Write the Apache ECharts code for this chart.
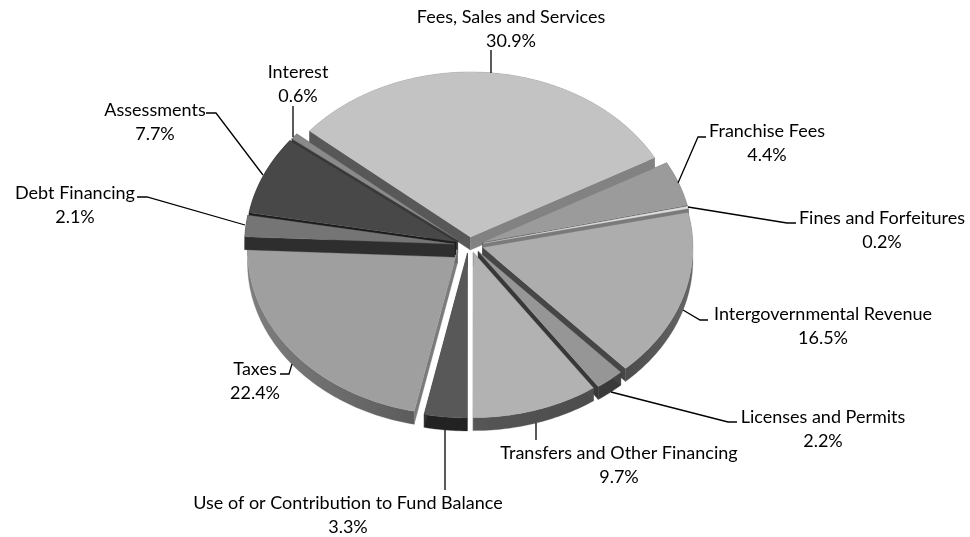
<!DOCTYPE html>
<html>
<head>
<meta charset="utf-8">
<script src="https://cdn.jsdelivr.net/npm/echarts@6/dist/echarts.min.js"></script>
<style>
  html, body { margin: 0; padding: 0; background: #fff; }
  #chart_id { width: 970px; height: 537px; }
</style>
</head>
<body>
<div id="chart_id"></div>
<script>
// values, clockwise from the first slice
const categories = [
  'Fees, Sales and Services', 'Franchise Fees', 'Fines and Forfeitures',
  'Intergovernmental Revenue', 'Licenses and Permits', 'Transfers and Other Financing',
  'Use of or Contribution to Fund Balance', 'Taxes', 'Debt Financing', 'Assessments', 'Interest',
];
const percents = [30.9, 4.4, 0.2, 16.5, 2.2, 9.7, 3.3, 22.4, 2.1, 7.7, 0.6];

// per slice grays: top, start wall, end wall, outer wall (left, right)
const topColors = ['#c3c3c3', '#9b9b9b', '#dcdcdc', '#adadad', '#969696', '#b2b2b2', '#585858', '#9f9f9f', '#757575', '#484848', '#8a8a8a'];
const startWall = ['#585858', '#666666', '#777777', '#5a5a5a', '#444444', '#505050', '#333333', '#7b7b7b', '#2e2e2e', '#1c1c1c', '#3a3a3a'];
const endWall = ['#828282', '#5c5c5c', '#7a7a7a', '#464646', '#383838', '#505050', '#333333', '#6a6a6a', '#2e2e2e', '#1c1c1c', '#3a3a3a'];
const arcLeft = ['#828282', '#666666', '#777777', '#4c4c4c', '#3a3a3a', '#565656', '#222222', '#7e7e7e', '#2e2e2e', '#1c1c1c', '#3a3a3a'];
const arcRight = ['#828282', '#666666', '#777777', '#666666', '#3a3a3a', '#4c4c4c', '#222222', '#5c5c5c', '#2e2e2e', '#1c1c1c', '#3a3a3a'];

// label anchors (centre x, first line y) and leader lines
const labelAnchors = [
  [511, 17], [767, 131], [882, 218], [823, 314], [823, 417],
  [619, 453], [348, 503], [255, 369], [75, 193], [155, 110], [298, 72],
];
const leaders = [
  [[491, 50], [491, 73]],
  [[706, 137], [698, 137], [678, 183]],
  [[688, 207], [787, 223], [796, 223]],
  [[708, 320], [700, 320], [683, 310]],
  [[611, 392], [728, 422], [737, 422]],
  [[536, 423], [536, 440]],
  [[445, 430], [445, 490]],
  [[280, 374], [289, 374], [292, 364]],
  [[137, 197], [147, 197], [245, 225]],
  [[206, 113], [216, 113], [263, 175]],
  [[293, 106], [293, 137]],
];

const cx = 469, cy = 245;
const rx = 210, ry = 165;
const depth = 13;
const explode = 14.5, explodeY = 0.55;
const startAngle = -50;

// painter's order, slice indexes
const drawOrder = [0, 10, 1, 2, 3, 4, 5, 6, 7, 9, 8];

const total = percents.reduce((a, b) => a + b, 0);
const slices = [];
let acc = startAngle;
percents.forEach((p) => {
  const sweep = p / total * 360;
  slices.push({ start: acc, end: acc + sweep, mid: acc + sweep / 2 });
  acc += sweep;
});
const rad = (d) => d * Math.PI / 180;

function sliceItem(params) {
  const i = drawOrder[params.dataIndex];
  const s = slices[i];
  const ax = cx + explode * Math.sin(rad(s.mid));
  const ay = cy - explode * explodeY * Math.cos(rad(s.mid));
  const pt = (deg) => [ax + rx * Math.sin(rad(deg)), ay - ry * Math.cos(rad(deg))];
  const down = (p) => [p[0], p[1] + depth];

  const arc = [];
  const steps = Math.max(3, Math.ceil(s.end - s.start));
  for (let k = 0; k <= steps; k++) {
    arc.push(pt(s.start + (s.end - s.start) * k / steps));
  }
  const apex = [ax, ay];
  const a0 = arc[0];
  const a1 = arc[arc.length - 1];
  const poly = (points, fill) => ({ type: 'polygon', shape: { points }, style: { fill, stroke: fill, lineWidth: 0.3 } });

  return {
    type: 'group',
    children: [
      poly(arc.concat(arc.map(down).reverse()), new echarts.graphic.LinearGradient(0, 0, 1, 0, [
        { offset: 0, color: arcLeft[i] }, { offset: 1, color: arcRight[i] },
      ])),
      poly([apex, a0, down(a0), down(apex)], startWall[i]),
      poly([apex, a1, down(a1), down(apex)], endWall[i]),
      poly([apex].concat(arc), topColors[i]),
    ],
  };
}

function labelItem(params) {
  const i = params.dataIndex;
  const children = [{
    type: 'polyline',
    shape: { points: leaders[i] },
    style: { fill: 'none', stroke: '#000', lineWidth: 1.3 },
  }];
  [categories[i], percents[i].toFixed(1) + '%'].forEach((text, n) => {
    children.push({
      type: 'text',
      style: {
        text,
        x: labelAnchors[i][0],
        y: labelAnchors[i][1] + n * 24,
        align: 'center',
        verticalAlign: 'middle',
        fill: '#000',
        font: '18px Lato, "Open Sans", sans-serif',
      },
    });
  });
  return { type: 'group', children };
}

const myChart = echarts.init(document.getElementById('chart_id'));
const option = {
  animation: false,
  backgroundColor: '#fff',
  series: [
    {
      type: 'custom',
      coordinateSystem: 'none',
      renderItem: sliceItem,
      data: drawOrder.map((i) => percents[i]),
      z: 2,
    },
    {
      type: 'custom',
      coordinateSystem: 'none',
      renderItem: labelItem,
      data: percents,
      z: 3,
    },
  ],
};
myChart.setOption(option);
</script>
</body>
</html>
